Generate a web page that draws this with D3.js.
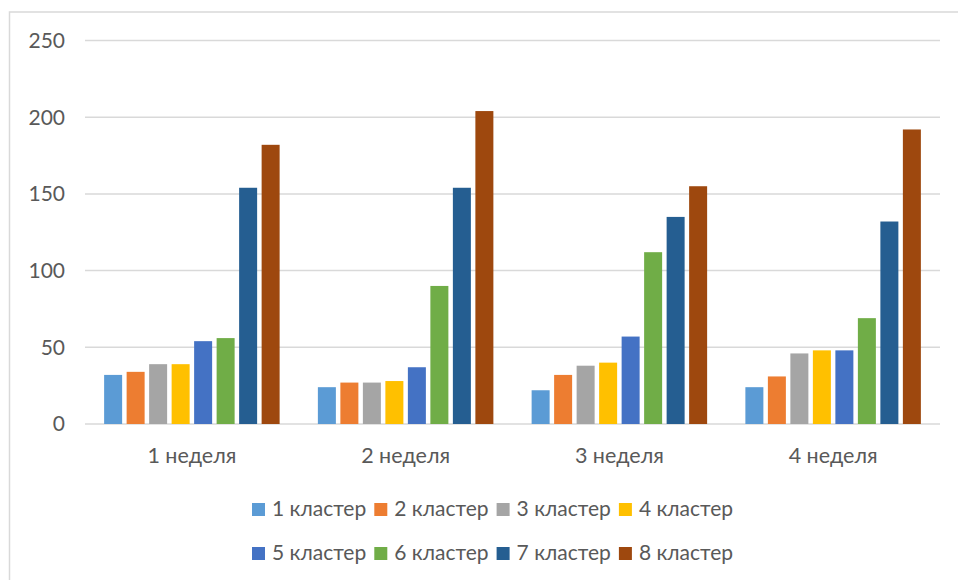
<!DOCTYPE html>
<html>
<head>
<meta charset="utf-8">
<script src="https://cdn.jsdelivr.net/npm/d3@7"></script>
<style>
  html, body { margin: 0; padding: 0; background: #fff; }
  svg { display: block; }
  text { font-family: Lato, "Open Sans", sans-serif; fill: #595959; }
</style>
</head>
<body>
<svg id="chart" width="958" height="580"></svg>
<script>
// Weeks along the x axis
const categories = ["1 неделя", "2 неделя", "3 неделя", "4 неделя"];
// Cluster series names
const seriesNames = ["1 кластер", "2 кластер", "3 кластер", "4 кластер",
                     "5 кластер", "6 кластер", "7 кластер", "8 кластер"];
// Values per cluster, one per week
const cluster1 = [32, 24, 22, 24];
const cluster2 = [34, 27, 32, 31];
const cluster3 = [39, 27, 38, 46];
const cluster4 = [39, 28, 40, 48];
const cluster5 = [54, 37, 57, 48];
const cluster6 = [56, 90, 112, 69];
const cluster7 = [154, 154, 135, 132];
const cluster8 = [182, 204, 155, 192];
const yTicks = [0, 50, 100, 150, 200, 250];
const colors = ["#5B9BD5", "#ED7D31", "#A5A5A5", "#FFC000",
                "#4472C4", "#70AD47", "#255E91", "#9E480E"];

const seriesValues = [cluster1, cluster2, cluster3, cluster4,
                      cluster5, cluster6, cluster7, cluster8];

const svg = d3.select("#chart");

// Chart frame (top and left edges visible)
svg.append("path")
  .attr("d", "M9.5,580 L9.5,12 L958,12")
  .attr("fill", "none")
  .attr("stroke", "#d9d9d9")
  .attr("stroke-width", 1.5);

const plot = { left: 85, right: 940, top: 40.5, bottom: 424 };

const y = d3.scaleLinear().domain([0, 250]).range([plot.bottom, plot.top]);
const x0 = d3.scaleBand().domain(categories).range([plot.left, plot.right])
  .paddingInner(0).paddingOuter(0);
const x1 = d3.scaleBand().domain(d3.range(seriesNames.length))
  .range([0, x0.bandwidth()]).paddingInner(0.2).paddingOuter(0.85);

// Horizontal gridlines
svg.append("g").selectAll("line").data(yTicks).join("line")
  .attr("x1", plot.left).attr("x2", plot.right)
  .attr("y1", d => y(d)).attr("y2", d => y(d))
  .attr("stroke", "#d9d9d9").attr("stroke-width", 1.5);

// Y tick labels
svg.append("g").selectAll("text").data(yTicks).join("text")
  .attr("x", 65).attr("y", d => y(d))
  .attr("dy", "0.35em")
  .attr("text-anchor", "end")
  .attr("font-size", 21)
  .text(d => d);

// Bars
const groups = svg.append("g").selectAll("g").data(categories).join("g")
  .attr("transform", c => `translate(${x0(c)},0)`);
groups.selectAll("rect")
  .data((c, ci) => seriesValues.map((vals, si) => ({ si, v: vals[ci] })))
  .join("rect")
  .attr("x", d => x1(d.si))
  .attr("width", x1.bandwidth())
  .attr("y", d => y(d.v))
  .attr("height", d => y(0) - y(d.v))
  .attr("fill", d => colors[d.si]);

// Category labels
svg.append("g").selectAll("text").data(categories).join("text")
  .attr("x", c => x0(c) + x0.bandwidth() / 2)
  .attr("y", 463)
  .attr("text-anchor", "middle")
  .attr("font-size", 21.5)
  .text(c => c);

// Legend: two rows of four
const legend = svg.append("g").selectAll("g").data(seriesNames).join("g")
  .attr("transform", (d, i) => `translate(${252 + (i % 4) * 122.3},${516 + Math.floor(i / 4) * 44})`);
legend.append("rect")
  .attr("x", 0).attr("y", -13).attr("width", 13).attr("height", 13)
  .attr("fill", (d, i) => colors[i]);
legend.append("text")
  .attr("x", 20).attr("y", 0)
  .attr("font-size", 21)
  .text(d => d);
</script>
</body>
</html>
